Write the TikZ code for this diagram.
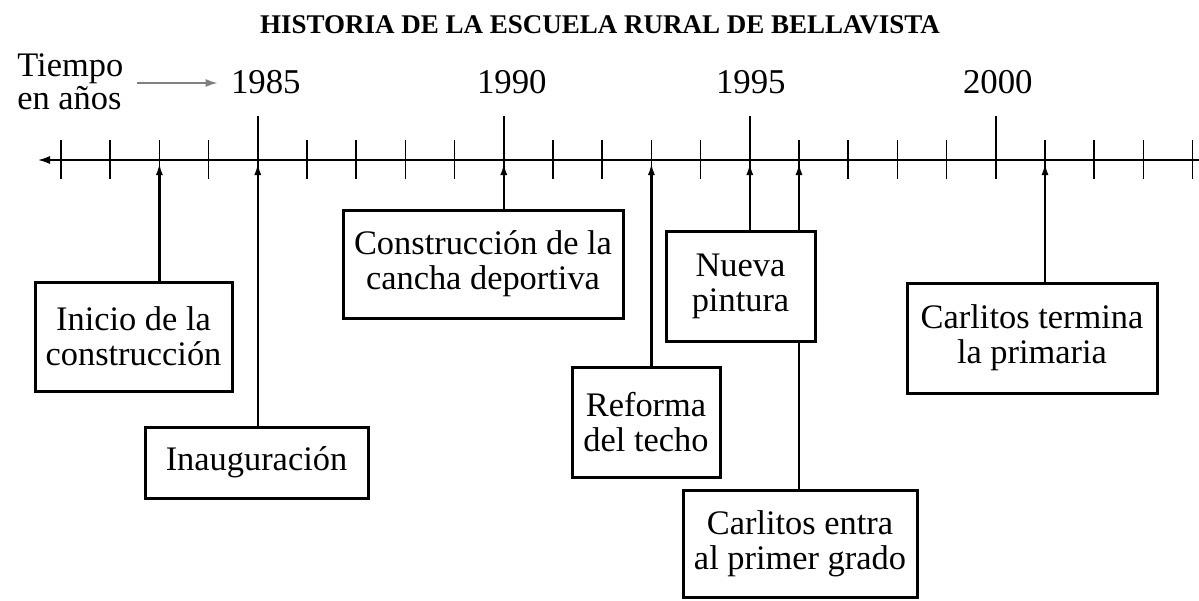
\documentclass[tikz,border=0pt]{standalone}
\usepackage{fontspec}
\setmainfont{Liberation Serif}
\usetikzlibrary{arrows.meta,positioning,calc}
\tikzstyle{event} = [rectangle, draw, line width=1.5pt, fill=white, align=center, inner sep=0pt, font=\fontsize{17.2}{17.5}\selectfont]
\tikzstyle{stem} = [draw, line width=1.3pt, -{Latex[length=6pt,width=3.5pt]}, shorten >=1.5pt]
\tikzstyle{tick} = [draw, line width=0.8pt]
\tikzstyle{year} = [anchor=base, inner sep=0pt, font=\fontsize{17.4}{18}\selectfont]

\begin{document}
\begin{tikzpicture}[x=0.5pt, y=-0.5pt]
\useasboundingbox (0,0) rectangle (1199,600);
\clip (0,0) rectangle (1199,600);

% title
\node [font=\bfseries\fontsize{13.5}{16}\selectfont, anchor=base] (title) at (600,33) {HISTORIA DE LA ESCUELA RURAL DE BELLAVISTA};

% time axis
\draw [line width=0.8pt, {Latex[length=6pt,width=4pt]}-{Latex[length=6pt,width=4pt]}] (38,160) -- (1212,160);
\foreach \yr in {1981,...,2004} {
  \coordinate (y\yr) at ({61+49.2*(\yr-1981)},160);
  \draw [tick] (y\yr) ++(0,-20) -- ++(0,39);
}
\foreach \yr/\dx in {1985/8,1990/8,1995/1,2000/2} {
  \draw [tick] (y\yr) ++(0,-44) -- ++(0,24);
  \node [year] (l\yr) at ($(y\yr)+(\dx,-67)$) {\yr};
}

\node [align=left, anchor=north west, inner sep=0pt, font=\fontsize{17.2}{16.5}\selectfont] (tiempo) at (17,53) {Tiempo\\en años};
\draw [gray, line width=0.8pt, -{Latex[length=6pt,width=4pt]}, shorten <=6.5pt, shorten >=6.5pt] (tiempo.east |- 0,83) -- (l1985.west |- 0,83);

% events
\node [event, minimum width=98.5pt, minimum height=54.5pt] (inicio) at (133.5,336.5) {Inicio de la\\construcción};
\node [event, minimum width=111.5pt, minimum height=35.5pt] (inaug) at (256.5,462.5) {Inauguración};
\node [event, minimum width=140pt, minimum height=54pt] (constr) at (483,264) {Construcción de la\\cancha deportiva};
\node [event, minimum width=74pt, minimum height=55pt] (reforma) at (646,422) {Reforma\\del techo};
\node [event, minimum width=74.5pt, minimum height=55pt] (nueva) at (740.5,286) {Nueva\\pintura};
\node [event, minimum width=117pt, minimum height=53.5pt] (entra) at (800,543.5) {Carlitos entra\\al primer grado};
\node [event, minimum width=125pt, minimum height=55pt] (termina) at (1032,338) {Carlitos termina\\la primaria};

\path [stem] (inicio.north -| y1983) -- (y1983);
\path [stem] (inaug.north -| y1985) -- (y1985);
\path [stem] (constr.north -| y1990) -- (y1990);
\path [stem] (reforma.north -| y1993) -- (y1993);
\path [stem] (nueva.north -| y1995) -- (y1995);
\path [stem] (nueva.north -| y1996) -- (y1996);
\draw [line width=1.3pt] (entra.north -| y1996) -- (nueva.south -| y1996);
\path [stem] (termina.north -| y2001) -- (y2001);
\end{tikzpicture}
\end{document}
